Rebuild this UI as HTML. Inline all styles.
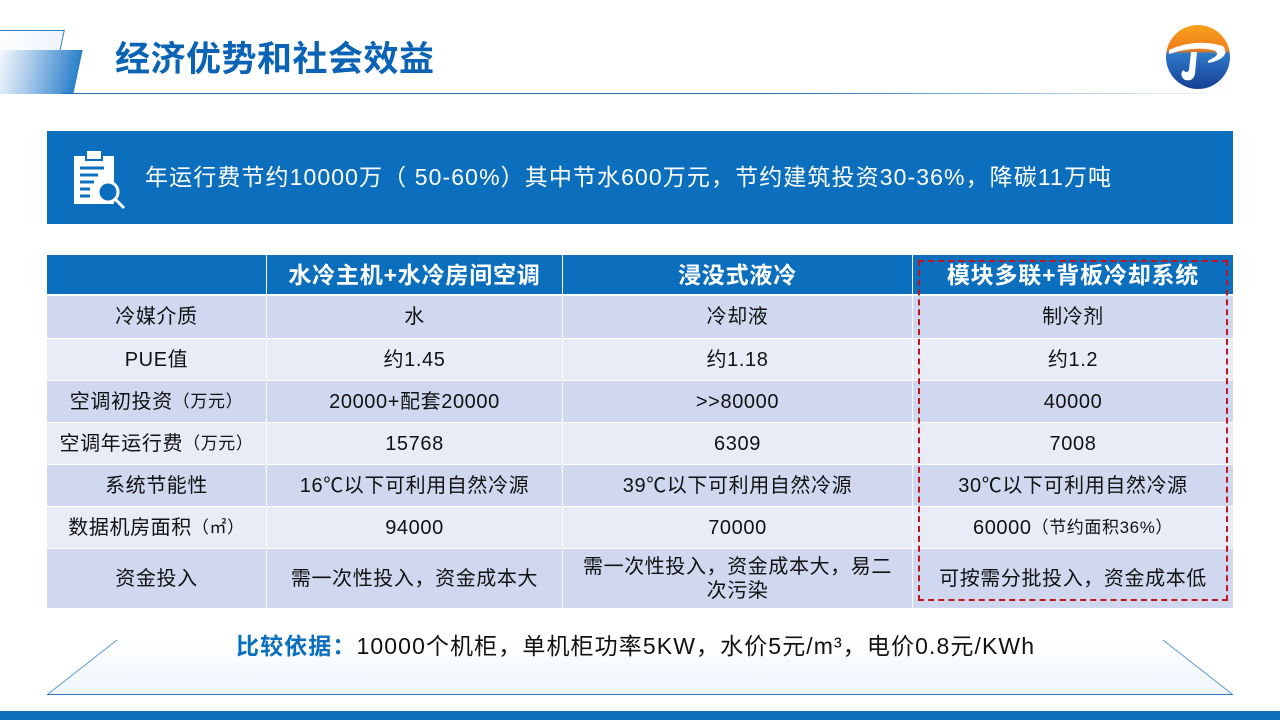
<!DOCTYPE html>
<html><head><meta charset="utf-8"><style>
body{margin:0;width:1280px;height:720px;position:relative;overflow:hidden;background:#fff;font-family:"Liberation Sans","Noto Sans CJK SC",sans-serif;}
.a{position:absolute}
.c{position:absolute;display:flex;align-items:center;justify-content:center;text-align:center;font-size:20px;letter-spacing:0.6px;color:#111;box-sizing:border-box;line-height:24px}
.h{background:#0c6fbe;color:#fff;font-weight:bold;font-size:23px;letter-spacing:0.8px}
.d{background:#cfd8ef}.l{background:#e8ecf6}
small{font-size:17px}
</style></head><body>
<div class="a" style="left:-10px;top:30px;width:70px;height:34px;border:1px solid #2e7fc2;border-left:none;transform:skewX(-12deg);background:linear-gradient(90deg,#fff,#eef4fb)"></div>
<div class="a" style="left:-10px;top:50px;width:88px;height:44px;background:linear-gradient(90deg,#fff 0%,#a8c9ea 45%,#2a80cb 100%);transform:skewX(-12deg)"></div>
<div class="a" style="left:62px;top:93px;width:1180px;height:1px;background:linear-gradient(90deg,#1f6fb8,#1f6fb8 60%,#fff)"></div>
<div class="a" style="left:115px;top:35px;font-size:35px;letter-spacing:0.5px;font-weight:bold;color:#0b63b6;font-family:'Noto Sans CJK SC',sans-serif;line-height:44px">经济优势和社会效益</div>
<svg class="a" style="left:1165px;top:24px" width="66" height="66" viewBox="0 0 66 66">
<defs><linearGradient id="g" x1="0" y1="0" x2="0" y2="1"><stop offset="0" stop-color="#f6a21e"/><stop offset=".4" stop-color="#f07b1a"/><stop offset=".45" stop-color="#2d78c8"/><stop offset="1" stop-color="#173f95"/></linearGradient></defs>
<circle cx="33" cy="33" r="32" fill="url(#g)"/>
<path d="M4 26 Q30 14 58 22 Q66 32 48 38 Q40 40 44 36 Q58 30 48 26 Q28 22 4 30Z" fill="#fff"/>
<path d="M26 28 L32 28 L30 50 Q28 58 20 56 Q14 52 18 46 Q22 50 24 46Z" fill="#fff"/>
</svg>
<div class="a" style="left:47px;top:131px;width:1186px;height:93px;background:#0c6fbe"></div>
<svg class="a" style="left:72px;top:148px" width="56" height="62" viewBox="0 0 56 62">
<rect x="2" y="8" width="40" height="48" fill="#fff"/><rect x="14" y="2" width="16" height="10" fill="#fff" stroke="#0c6fbe" stroke-width="2"/>
<g stroke="#0c6fbe" stroke-width="3"><line x1="8" y1="20" x2="32" y2="20"/><line x1="8" y1="27" x2="26" y2="27"/><line x1="8" y1="34" x2="22" y2="34"/><line x1="8" y1="41" x2="18" y2="41"/><line x1="8" y1="48" x2="18" y2="48"/></g>
<circle cx="36" cy="44" r="10" fill="#0c6fbe" stroke="#fff" stroke-width="3"/><line x1="43" y1="51" x2="52" y2="60" stroke="#fff" stroke-width="3"/>
</svg>
<div class="a" style="left:145px;top:162px;font-size:23px;letter-spacing:1.1px;color:#fff;line-height:30px;white-space:nowrap">年运行费节约10000万（ 50-60%）其中节水600万元，节约建筑投资30-36%，降碳11万吨</div>

<div class="c h" style="left:47px;top:255px;width:219px;height:39px"></div>
<div class="c h" style="left:267px;top:255px;width:295px;height:39px">水冷主机+水冷房间空调</div>
<div class="c h" style="left:563px;top:255px;width:349px;height:39px">浸没式液冷</div>
<div class="c h" style="left:913px;top:255px;width:320px;height:39px">模块多联+背板冷却系统</div>

<div id="rows"></div>
<script>
var R=[["冷媒介质","水","冷却液","制冷剂",296,42],["PUE值","约1.45","约1.18","约1.2",339,41],["空调初投资<small>（万元）</small>","20000+配套20000",">>80000","40000",381,41],["空调年运行费<small>（万元）</small>","15768","6309","7008",423,41],["系统节能性","16℃以下可利用自然冷源","39℃以下可利用自然冷源","30℃以下可利用自然冷源",465,41],["数据机房面积<small>（㎡）</small>","94000","70000","60000<small>（节约面积36%）</small>",507,41],["资金投入","需一次性投入，资金成本大","需一次性投入，资金成本大，易二<br>次污染","可按需分批投入，资金成本低",549,59]];
var X=[[47,219],[267,295],[563,349],[913,320]],h="";
R.forEach(function(r,i){for(var j=0;j<4;j++){h+='<div class="c '+(i%2?'l':'d')+'" style="left:'+X[j][0]+'px;top:'+r[4]+'px;width:'+X[j][1]+'px;height:'+r[5]+'px;padding:0 4px">'+r[j]+'</div>';}});
document.getElementById("rows").outerHTML=h;
</script>
<div class="a" style="left:918px;top:260px;width:306px;height:337px;border:2px dashed #c0141e"></div>

<div class="a" style="left:47px;top:640px;width:1186px;height:55px;background:linear-gradient(180deg,#fff,#eef5fc);clip-path:polygon(6% 0,94% 0,100% 100%,0 100%)"></div>
<svg class="a" style="left:47px;top:640px" width="1186" height="56"><line x1="70" y1="0" x2="1" y2="54" stroke="#5a9ad2" stroke-width="1"/><line x1="1116" y1="0" x2="1185" y2="54" stroke="#5a9ad2" stroke-width="1"/></svg>
<div class="a" style="left:47px;top:694px;width:1186px;height:1px;background:#2a78c0"></div>
<div class="a" style="left:236px;top:631px;font-size:23px;letter-spacing:1.1px;line-height:30px;color:#111;white-space:nowrap"><b style="color:#0c6fbe">比较依据：</b>10000个机柜，单机柜功率5KW，水价5元/m³，电价0.8元/KWh</div>
<div class="a" style="left:0;top:711px;width:1280px;height:9px;background:#0c6fbe"></div>
</body></html>
